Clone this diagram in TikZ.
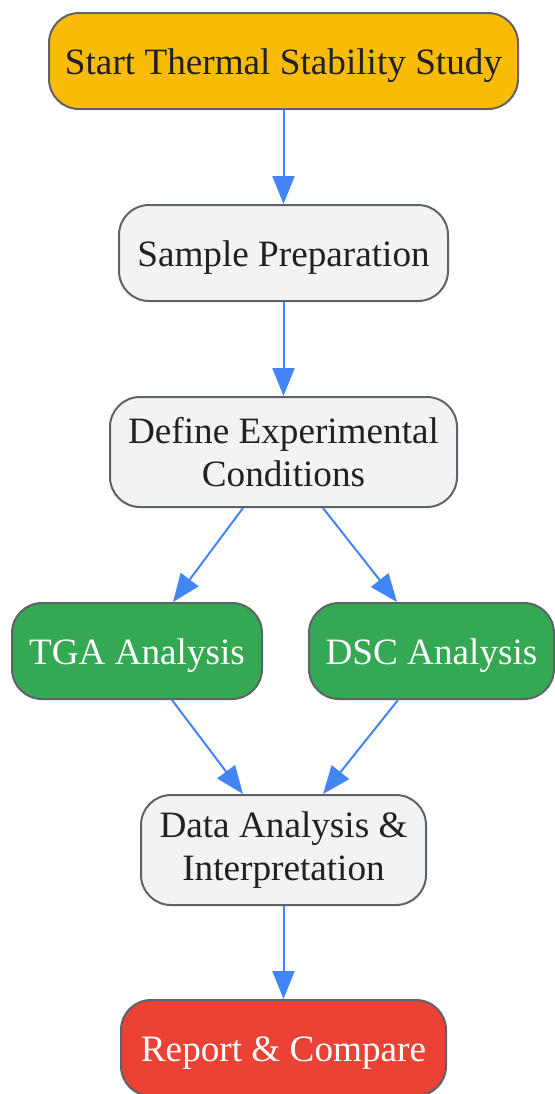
\documentclass[tikz,border=0pt]{standalone}
\usepackage{fontspec}
\setmainfont{Liberation Serif}
\usepackage[dvipsnames]{xcolor}
\usetikzlibrary{arrows.meta}
\definecolor{edgegray}{HTML}{5F6368}
\definecolor{textdark}{HTML}{202124}
\definecolor{startyellow}{HTML}{F9BB06}
\definecolor{stepgray}{HTML}{F1F3F4}
\definecolor{rungreen}{HTML}{34A853}
\definecolor{endred}{HTML}{EA4335}
\definecolor{flowblue}{HTML}{4285F4}

\begin{document}
\begin{tikzpicture}[x=0.5pt,y=-0.5pt,
        box/.style={draw=edgegray,line width=1pt,rounded corners=15pt,align=center,
        font=\fontsize{18.6}{21.5}\selectfont,text=textdark,inner sep=0pt},
        oneline/.style={text height=13.5pt,text depth=0pt},
        stepbox/.style={box,fill=stepgray},
        greenbox/.style={box,oneline,fill=rungreen,text=white},
        flow/.style={draw=flowblue,line width=1pt,
        -{Stealth[inset=0pt,width=11pt,length=14pt,flowblue]}}]
        \useasboundingbox (0,0) rectangle (555,1094);
        \node[box,oneline,fill=startyellow,minimum width=234.5pt,minimum height=48pt] (start) at (283.5,61) {Start Thermal Stability Study};
        \node[stepbox,oneline,minimum width=164.5pt,minimum height=48pt] (sample) at (283.5,253) {Sample Preparation};
        \node[stepbox,minimum width=173.5pt,minimum height=55pt] (define) at (283.5,452) {Define Experimental\\Conditions};
        \node[greenbox,minimum width=125pt,minimum height=48pt] (tga) at (137,651) {TGA Analysis};
        \node[greenbox,minimum width=122.5pt,minimum height=48pt] (dsc) at (431.5,651) {DSC Analysis};
        \node[stepbox,minimum width=142.5pt,minimum height=55pt] (data) at (283.5,850) {Data Analysis \&\\Interpretation};
        \node[box,oneline,fill=endred,text=white,minimum width=162.5pt,minimum height=48pt] (report) at (283.5,1048) {Report \& Compare};
        % connectors
        \draw[flow] (start) -- (sample);
        \draw[flow] (sample) -- (define);
        \draw[flow] ([xshift=-20.25pt]define.south) -- ([xshift=18pt]tga.north);
        \draw[flow] ([xshift=19.75pt]define.south) -- ([xshift=-17.25pt]dsc.north);
        \draw[flow] ([xshift=17.5pt]tga.south) -- ([xshift=-20.25pt]data.north);
        \draw[flow] ([xshift=-16.75pt]dsc.south) -- ([xshift=19.75pt]data.north);
        \draw[flow] (data) -- (report);
    \end{tikzpicture}
\end{document}
